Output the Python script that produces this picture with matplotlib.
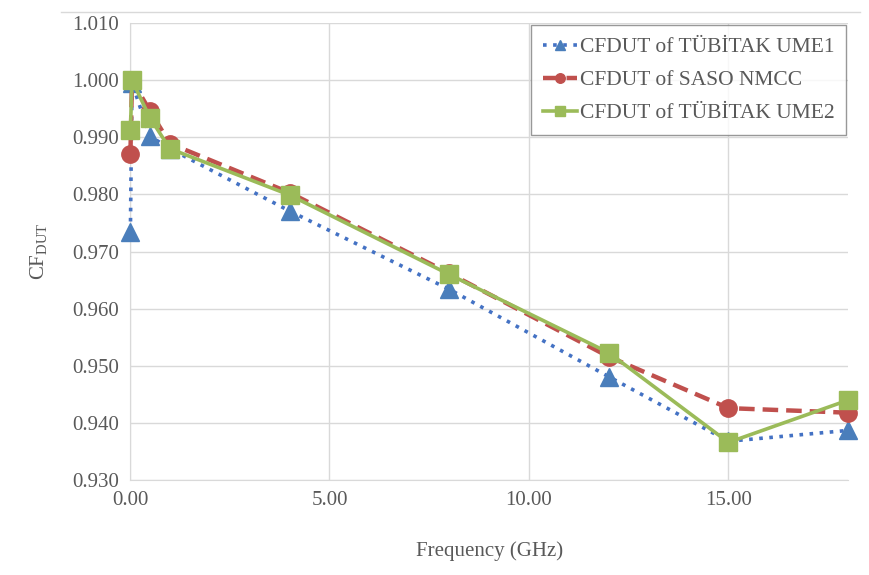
import matplotlib.pyplot as plt
from matplotlib.ticker import FormatStrFormatter, MultipleLocator

plt.rcParams["font.family"] = ["Liberation Serif", "DejaVu Serif"]
plt.rcParams["mathtext.fontset"] = "custom"
plt.rcParams["mathtext.rm"] = "Liberation Serif"

# Frequency points (GHz) and CF_DUT values
freq = [0.01, 0.05, 0.5, 1, 4, 8, 12, 15, 18]
ume1 = [0.9735, 0.9995, 0.9902, 0.9880, 0.9771, 0.9634, 0.9481, 0.9368, 0.9387]
saso = [0.9870, 1.0000, 0.9946, 0.9889, 0.9803, 0.9662, 0.9516, 0.9426, 0.9418]
ume2 = [0.9912, 1.0000, 0.9934, 0.9880, 0.9799, 0.9660, 0.9523, 0.9366, 0.9440]

labels = ["CFDUT of TÜBİTAK UME1", "CFDUT of SASO NMCC", "CFDUT of TÜBİTAK UME2"]

grey = "#595959"

fig = plt.figure(figsize=(8.69, 5.75), dpi=100)
ax = fig.add_axes([0.1496, 0.165, 0.8264, 0.795])

ax.plot(freq, ume1, linestyle=(0, (1, 1.8)), color="#4472C4", lw=2.6,
        marker="^", markersize=13, markerfacecolor="#4a7ebb",
        markeredgecolor="#4a7ebb", label=labels[0], zorder=3, clip_on=False)
ax.plot(freq, saso, linestyle=(0, (3.5, 1.8)), color="#C0504D", lw=3.2,
        marker="o", markersize=12.5, markerfacecolor="#C0504D",
        markeredgecolor="#C0504D", label=labels[1], zorder=4, clip_on=False)
ax.plot(freq, ume2, linestyle="-", color="#9BBB59", lw=2.6,
        marker="s", markersize=13, markerfacecolor="#9BBB59",
        markeredgecolor="#9BBB59", label=labels[2], zorder=5, clip_on=False)

ax.set_xlim(0, 18)
ax.set_ylim(0.930, 1.010)
ax.xaxis.set_major_locator(MultipleLocator(5))
ax.yaxis.set_major_locator(MultipleLocator(0.01))
ax.xaxis.set_major_formatter(FormatStrFormatter("%.2f"))
ax.yaxis.set_major_formatter(FormatStrFormatter("%.3f"))

ax.grid(True, color="#d9d9d9", lw=1)
ax.set_axisbelow(True)
for s in ["top", "right"]:
    ax.spines[s].set_visible(False)
ax.spines["left"].set_color("#d9d9d9")
ax.spines["bottom"].set_color("#d9d9d9")
ax.tick_params(length=0, labelsize=15, colors=grey, pad=8)

ax.set_xlabel("Frequency (GHz)", fontsize=15, color=grey, labelpad=22)
ax.set_ylabel(r"CF$_{\mathrm{DUT}}$", fontsize=15, color=grey, labelpad=16)

leg = ax.legend(loc="upper right", bbox_to_anchor=(1.0, 1.0), fontsize=15.5,
                frameon=True, fancybox=False, edgecolor="#7f7f7f",
                handlelength=1.6, handletextpad=0.1, labelspacing=0.6,
                borderpad=0.55, borderaxespad=0.1, labelcolor=grey,
                markerscale=0.55)
leg.get_frame().set_linewidth(1.0)
leg.set_zorder(10)

fig.add_artist(plt.Line2D([0.07, 0.99], [0.98, 0.98], color="#d9d9d9", lw=1,
                          transform=fig.transFigure))

fig.savefig("out.png", dpi=100)
